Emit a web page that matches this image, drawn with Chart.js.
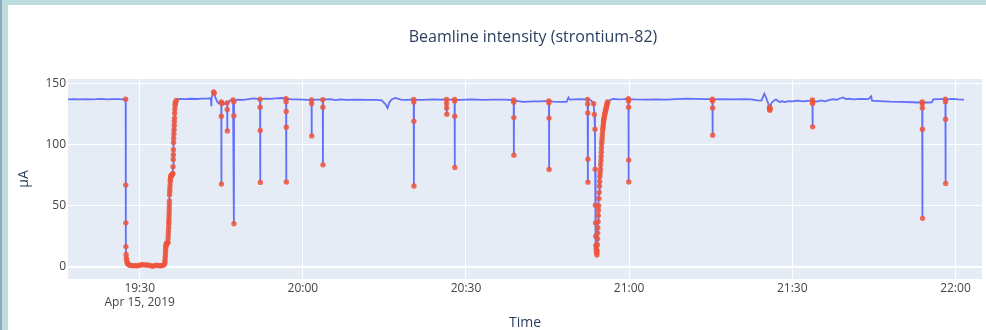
<!DOCTYPE html>
<html>
<head>
<meta charset="utf-8">
<script src="https://cdn.jsdelivr.net/npm/chart.js@4.4.1/dist/chart.umd.min.js"></script>
<style>
  html, body { margin: 0; padding: 0; background: #ffffff; width: 986px; height: 330px; overflow: hidden; }
  #wrap { position: relative; width: 986px; height: 330px; }
  #c { position: absolute; left: 0; top: 0; }
  .band-top { position: absolute; left: 0; top: 0; width: 986px; height: 5px; background: #bcdcdd; }
  .band-left { position: absolute; left: 0; top: 0; width: 8px; height: 330px; background: #bcdcdd; }
  .band-edge { position: absolute; left: 0; top: 0; width: 2px; height: 330px; background: #8eaac2; }
</style>
</head>
<body>
<div id="wrap">
  <canvas id="c" width="986" height="330"></canvas>
  <div class="band-top"></div>
  <div class="band-left"></div>
  <div class="band-edge"></div>
</div>
<script>
// ---- data ----
const chartTitle = "Beamline intensity (strontium-82)";
const xTitle = "Time";
const yTitle = "µA";
const dateLabel = "Apr 15, 2019";
const xTickLabels = ["19:30", "20:00", "20:30", "21:00", "21:30", "22:00"];
const yTickValues = [0, 50, 100, 150];

// sample times (HH:MM:SS), beam current (µA), flagged sample (1 = red marker)
// one row per stretch of the record; rows line up across the three arrays
const times = [
  "19:16:50","19:18:00","19:19:00","19:20:00","19:21:00","19:22:00","19:23:00","19:24:00","19:25:00","19:26:00","19:27:00",
  "19:27:25","19:27:26","19:27:27","19:27:28","19:27:30","19:27:33","19:27:37","19:27:42","19:27:48","19:27:55",
  "19:28:10","19:28:30","19:28:50","19:29:10","19:29:30","19:29:50","19:30:10","19:30:30","19:30:50","19:31:10",
  "19:31:30","19:31:50","19:32:10","19:32:30","19:32:50","19:33:10","19:33:30","19:33:50","19:34:10","19:34:25",
  "19:34:35","19:34:38","19:34:40","19:34:42","19:34:44","19:34:46","19:34:48","19:34:51","19:34:53","19:34:57",
  "19:35:00","19:35:03","19:35:06","19:35:09","19:35:11","19:35:13","19:35:15","19:35:17","19:35:19","19:35:21",
  "19:35:22","19:35:23","19:35:24","19:35:25","19:35:26","19:35:27","19:35:28","19:35:29","19:35:31","19:35:33",
  "19:35:35","19:35:37","19:35:39","19:35:41","19:35:44","19:35:48","19:35:52","19:35:57","19:36:01","19:36:06",
  "19:36:08","19:36:10","19:36:11","19:36:12","19:36:13","19:36:15","19:36:17","19:36:19","19:36:21","19:36:22",
  "19:36:24","19:36:26","19:36:28","19:36:31","19:36:33","19:36:35","19:36:43",
  "19:36:50","19:37:30","19:38:30","19:39:30","19:40:30","19:41:30","19:42:30","19:43:05",
  "19:43:10","19:43:12","19:43:25","19:43:36","19:43:42","19:43:55","19:44:15","19:44:35",
  "19:45:00","19:45:01","19:45:02","19:45:03","19:45:10","19:45:40",
  "19:46:05","19:46:06","19:46:07","19:46:08","19:46:40",
  "19:47:10","19:47:18","19:47:19","19:47:20","19:47:21",
  "19:48:00","19:49:00","19:50:00","19:51:00",
  "19:52:08","19:52:09","19:52:10","19:52:11","19:52:12",
  "19:53:00","19:54:00","19:55:00","19:56:00",
  "19:56:54","19:56:55","19:56:56","19:56:57","19:56:58","19:56:59",
  "19:58:00","19:59:00","20:00:00","20:01:00",
  "20:01:36","20:01:37","20:01:38","20:01:39","20:02:30",
  "20:03:40","20:03:41","20:03:42","20:03:43",
  "20:05:00","20:06:00","20:07:00","20:08:00","20:10:00","20:12:00","20:13:30","20:14:30",
  "20:15:10","20:15:35","20:15:55","20:16:20","20:17:00","20:18:00","20:19:00","20:20:00",
  "20:20:23","20:20:24","20:20:25","20:20:26","20:20:27",
  "20:22:00","20:24:00","20:25:30",
  "20:26:25","20:26:26","20:26:27","20:26:28","20:26:29","20:27:10",
  "20:27:54","20:27:55","20:27:56","20:27:57","20:27:58",
  "20:29:00","20:31:00","20:33:00","20:35:00","20:37:00",
  "20:38:46","20:38:47","20:38:48","20:38:49","20:38:50",
  "20:39:30","20:40:30","20:41:30","20:42:30","20:43:30","20:44:30",
  "20:45:14","20:45:15","20:45:16","20:45:17","20:45:18",
  "20:46:00","20:47:30","20:48:30","20:48:51","20:49:05","20:50:00","20:51:00","20:52:00",
  "20:52:22","20:52:23","20:52:24","20:52:25","20:52:26","20:52:27",
  "20:53:00","20:53:20",
  "20:53:29","20:53:36","20:53:43","20:53:45","20:53:47","20:53:49","20:53:51","20:53:53","20:53:56","20:53:59","20:54:02","20:54:05",
  "20:54:07","20:54:09","20:54:11","20:54:13","20:54:15","20:54:17","20:54:19","20:54:21","20:54:23","20:54:26",
  "20:54:29","20:54:32","20:54:35","20:54:37","20:54:40","20:54:43","20:54:46","20:54:49","20:54:51","20:54:53",
  "20:54:55","20:54:57","20:55:00","20:55:02","20:55:05","20:55:08","20:55:11","20:55:14","20:55:17","20:55:19",
  "20:55:22","20:55:26","20:55:29","20:55:33","20:55:37","20:55:41","20:55:45","20:55:49","20:55:52","20:55:56",
  "20:56:00","20:56:03",
  "20:56:39","20:57:09","20:58:00","20:59:00",
  "20:59:52","20:59:53","20:59:54","20:59:55","20:59:56","20:59:57",
  "21:01:00","21:03:00","21:05:00","21:07:00","21:08:30","21:10:40","21:12:00","21:14:00",
  "21:15:19","21:15:20","21:15:21","21:15:22","21:15:23",
  "21:17:00","21:19:00","21:21:00","21:22:30","21:23:30","21:24:20","21:24:51","21:25:15","21:25:35",
  "21:25:48","21:25:50","21:25:52","21:25:55",
  "21:26:10","21:26:40","21:27:00","21:27:40","21:28:10","21:28:40","21:29:20","21:30:00","21:31:00","21:32:00","21:33:20",
  "21:33:42","21:33:43","21:33:44","21:33:45","21:33:46",
  "21:34:30","21:35:20","21:36:00","21:36:40","21:37:30","21:38:10","21:38:50","21:39:20","21:39:50","21:40:30",
  "21:41:10","21:41:50","21:42:30","21:44:00","21:44:30","21:44:40","21:46:00","21:48:00","21:50:00","21:52:00","21:53:00",
  "21:53:53","21:53:54","21:53:55","21:53:56","21:53:57","21:53:58",
  "21:55:00","21:55:40","21:55:55","21:57:00",
  "21:58:09","21:58:10","21:58:11","21:58:12","21:58:13",
  "21:59:30","22:00:30","22:01:35"
];
const beamUA = [
  137.4,137.5,137.3,137.6,137.4,137.5,137.7,137.4,137.5,137.6,137.4,
  137.5,67,36,16.5,10,7,5,3.5,2.5,1.8,
  1.2,1.0,0.8,0.9,0.7,1.0,1.4,1.6,1.5,1.3,
  1.4,1.1,0.6,0.5,1.0,1.2,0.9,0.8,1.0,1.3,
  2.5,4,6,8.5,11,13.5,16,17.5,18.5,19,
  19.2,19.3,19.5,19.8,20,23,26,29,32,35,
  37,39.5,42,45,48,51,54,59,61.5,64,
  67,70,71.5,73,74,75,75.2,75.5,76,76.5,
  82,88,92,96,102,105.5,109,112.5,116,119,
  122,126,129.5,132.5,134,135,136.5,
  137.4,137.8,137.6,137.9,137.7,138.0,138.1,138.3,
  132.5,138.5,141.5,143.5,142.5,139,135.5,134,
  135.3,123.5,67.8,133.5,134,133.5,
  134.5,129,111.5,134.5,136.5,
  137,135.5,124,35.3,136,
  137.2,137.0,137.5,138.2,
  137.5,131,111.8,69.2,137.5,
  138.0,137.8,138.2,138.5,
  138,135.5,127.4,114.5,69.5,137.8,
  137.4,137.3,137.2,137.0,
  137,134,107.4,137,137.1,
  137.2,131,83.6,137.2,
  137.5,136.8,137.3,137.0,137.2,136.9,137.0,136.5,
  133.5,130.3,135,137.3,138.5,137.2,137.0,137.2,
  137.3,135.3,119.4,66.2,137.2,
  137.0,137.3,137.1,
  137.3,134,130.3,125.2,137,137.2,
  137.4,136,123.5,81.5,137.2,
  137.0,137.3,136.9,137.2,137.1,
  136.8,135,122.4,91.6,136.5,
  136.0,135.3,135.6,135.8,135.7,136.0,
  136,134.5,122,79.8,136,
  135.5,135.3,135.4,139,137.2,137.3,137.5,137.4,
  137.4,133.6,126.2,88.3,69.4,137.2,
  136.5,135,
  133.8,125,112.8,80,50.5,36,25,17.7,15,12.8,11,9.6,
  13,18,23,27.6,32,37,42,46.4,50,56,
  61,66,70,74,77,80,84,87.3,90.5,94,
  97.5,101,103.5,106,109,112,114,116,118,120,
  121.5,123,124.5,125.7,127,128.5,130,131,132.3,133.5,
  134.5,135.3,
  137.2,137.8,137.3,137.5,
  138,136,131,87.5,69.5,137.5,
  137.3,137.2,137.4,137.1,137.5,138.0,137.8,137.6,
  137.5,136,130.3,108,137.4,
  137.5,137.4,137.6,137.3,136.5,136.3,142,138,134,
  131,129,128.4,130,
  134.5,136.5,137.3,135.2,135.8,135.2,136.0,135.7,136.3,135.8,136.3,
  137,133.9,114.8,135.2,136,
  135.5,136.5,135.8,136.8,137.5,137,138.3,139,137.6,137.9,
  137.4,137.6,137.8,137.6,139.8,136.3,136.0,135.6,135.4,135.0,134.8,
  135.2,134,130.3,112.9,39.7,134.8,
  134.8,135.0,137.3,137.5,
  137.6,135.5,121.1,68.4,137.3,
  137.8,137.3,137.2
];
const flagged = [
  0,0,0,0,0,0,0,0,0,0,0,
  1,1,1,1,1,1,1,1,1,1,
  1,1,1,1,1,1,1,1,1,1,
  1,1,1,1,1,1,1,1,1,1,
  1,1,1,1,1,1,1,1,1,1,
  1,1,1,1,1,1,1,1,1,1,
  1,1,1,1,1,1,1,1,1,1,
  1,1,1,1,1,1,1,1,1,1,
  1,1,1,1,1,1,1,1,1,1,
  1,1,1,1,1,1,1,
  0,0,0,0,0,0,0,0,
  0,0,0,1,1,0,0,0,
  1,1,1,0,1,0,
  1,1,1,0,0,
  1,1,1,1,0,
  0,0,0,0,
  1,1,1,1,0,
  0,0,0,0,
  1,1,1,1,1,0,
  0,0,0,0,
  1,1,1,0,0,
  1,1,1,0,
  0,0,0,0,0,0,0,0,
  0,0,0,0,0,0,0,0,
  1,1,1,1,0,
  0,0,0,
  1,1,1,1,0,0,
  1,1,1,1,0,
  0,0,0,0,0,
  1,1,1,1,0,
  0,0,0,0,0,0,
  1,1,1,1,0,
  0,0,0,0,0,0,0,0,
  1,1,1,1,1,0,
  0,0,
  1,1,1,1,1,1,1,1,1,1,1,1,
  1,1,1,1,1,1,1,1,1,1,
  1,1,1,1,1,1,1,1,1,1,
  1,1,1,1,1,1,1,1,1,1,
  1,1,1,1,1,1,1,1,1,1,
  1,1,
  0,0,0,0,
  1,1,1,1,1,0,
  0,0,0,0,0,0,0,0,
  1,1,1,1,0,
  0,0,0,0,0,0,0,0,0,
  1,1,1,1,
  0,0,0,0,0,0,0,0,0,0,0,
  1,1,1,1,0,
  0,0,0,0,0,0,0,0,0,0,
  0,0,0,0,0,0,0,0,0,0,0,
  1,1,1,1,1,0,
  0,0,0,0,
  1,1,1,1,0,
  0,0,0
];

// ---- helpers ----
function toMinutes(hms) {
  const p = hms.split(":").map(Number);
  return p[0] * 60 + p[1] + (p[2] || 0) / 60;
}
const xTickValues = xTickLabels.map(toMinutes);
const linePoints = times.map((t, i) => ({ x: toMinutes(t), y: beamUA[i] }));
const flaggedPoints = linePoints.filter((p, i) => flagged[i] === 1);

const X_MIN = toMinutes("19:16:49");
const X_MAX = toMinutes("22:04:53");
const Y_MIN = -10.1;
const Y_MAX = 154.1;

const textColor = "#2a3f5f";
const tickColor = "#444444";

const plotBg = {
  id: "plotBg",
  beforeDraw(chart) {
    const { ctx, chartArea: a } = chart;
    ctx.save();
    ctx.fillStyle = "#e5ecf6";
    ctx.fillRect(a.left, a.top, a.right - a.left, a.bottom - a.top);
    ctx.restore();
  }
};
const titleText = {
  id: "titleText",
  afterDraw(chart) {
    const ctx = chart.ctx;
    ctx.save();
    ctx.font = "16px 'Open Sans'";
    ctx.fillStyle = textColor;
    ctx.textAlign = "center";
    ctx.textBaseline = "middle";
    ctx.fillText(chartTitle, 533, 37.5);
    ctx.restore();
  }
};

new Chart(document.getElementById("c"), {
  type: "line",
  data: {
    datasets: [
      {
        label: "flagged",
        type: "scatter",
        data: flaggedPoints,
        showLine: false,
        pointRadius: 2.7,
        pointBorderWidth: 0,
        pointBackgroundColor: "rgba(239,85,59,0.85)",
        order: 0
      },
      {
        label: "intensity",
        data: linePoints,
        borderColor: "#636efa",
        borderWidth: 1.8,
        pointRadius: 0,
        tension: 0,
        fill: false,
        order: 1
      }
    ]
  },
  options: {
    responsive: false,
    devicePixelRatio: 1,
    animation: false,
    layout: { padding: { top: 79, left: 0, right: 0, bottom: 0 } },
    plugins: {
      legend: { display: false },
      tooltip: { enabled: false },
      title: { display: false }
    },
    scales: {
      x: {
        type: "linear",
        position: "bottom",
        min: X_MIN,
        max: X_MAX,
        afterBuildTicks(scale) { scale.ticks = xTickValues.map(v => ({ value: v })); },
        afterFit(scale) { scale.height = 51; },
        grid: { color: "#ffffff", lineWidth: 1, drawTicks: false },
        border: { display: false },
        ticks: {
          padding: 2,
          color: tickColor,
          maxRotation: 0,
          autoSkip: false,
          font: { family: "'Open Sans'", size: 12 },
          callback(value, index) {
            return index === 0 ? [xTickLabels[0], dateLabel] : xTickLabels[index];
          }
        },
        title: {
          display: true,
          text: xTitle,
          color: textColor,
          font: { family: "'Open Sans'", size: 14, lineHeight: 1 },
          padding: 0
        }
      },
      y: {
        type: "linear",
        min: Y_MIN,
        max: Y_MAX,
        afterBuildTicks(scale) { scale.ticks = yTickValues.map(v => ({ value: v })); },
        afterFit(scale) { scale.width = 68; },
        grid: {
          color: "#ffffff",
          lineWidth: ctx => (ctx.tick && ctx.tick.value === 0 ? 2 : 1),
          drawTicks: false
        },
        border: { display: false },
        ticks: {
          padding: 2,
          color: tickColor,
          font: { family: "'Open Sans'", size: 12 }
        },
        title: {
          display: true,
          text: yTitle,
          color: textColor,
          font: { family: "'Open Sans'", size: 14, lineHeight: 1 },
          padding: { top: 17, bottom: 0 }
        }
      }
    }
  },
  plugins: [plotBg, titleText]
});
</script>
</body>
</html>
